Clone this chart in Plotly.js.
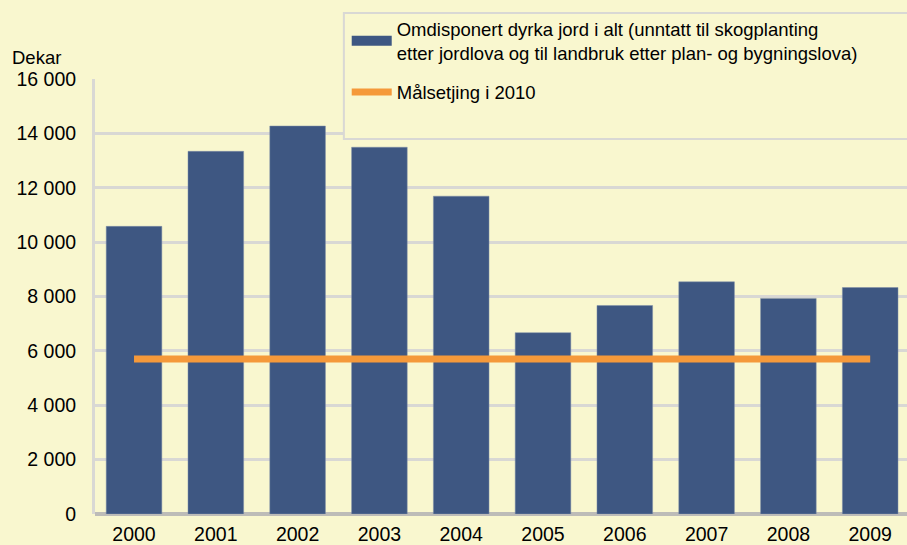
<!DOCTYPE html>
<html>
<head>
<meta charset="utf-8">
<script src="https://cdn.plot.ly/plotly-3.0.1.min.js"></script>
<style>html,body{margin:0;padding:0;background:#f9f7cf;}</style>
</head>
<body>
<div id="chart" style="width:907px;height:545px;"></div>
<script>
const years = ['2000','2001','2002','2003','2004','2005','2006','2007','2008','2009'];
const omdisponert = [10580, 13340, 14270, 13490, 11690, 6670, 7670, 8540, 7930, 8330];
const maal = [5700, 5700, 5700, 5700, 5700, 5700, 5700, 5700, 5700, 5700];
const barName = 'Omdisponert dyrka jord i alt (unntatt til skogplanting<br>etter jordlova og til landbruk etter plan- og bygningslova)';
const lineName = 'Målsetjing i 2010';
const yTicks = [0, 2000, 4000, 6000, 8000, 10000, 12000, 14000, 16000];

const bg = '#f9f7cf';
const barColor = '#3e5782';
const font = {family: 'Liberation Sans, Arial, sans-serif', size: 18.5, color: '#000'};
const tickFont = {family: 'Liberation Sans, Arial, sans-serif', size: 19.5, color: '#000'};

const traces = [
  {type: 'bar', x: years, y: omdisponert, name: barName,
   marker: {color: barColor, line: {color: '#7f8fa8', width: 0.5}},
   showlegend: false},
  {type: 'scatter', mode: 'lines', x: years, y: maal, name: lineName,
   line: {color: '#f5993a', width: 7}, showlegend: false},
  // legend entries (styled like the reference's legend keys)
  {type: 'scatter', mode: 'lines', x: [null], y: [null], name: barName,
   line: {color: barColor, width: 10}, legendgroup: 'a', hoverinfo: 'skip'},
  {type: 'scatter', mode: 'lines', x: [null], y: [null], name: lineName,
   line: {color: '#f5993a', width: 7}, legendgroup: 'b', hoverinfo: 'skip'}
];

const layout = {
  width: 907, height: 545,
  paper_bgcolor: bg, plot_bgcolor: bg,
  font: font,
  separators: ', ',
  margin: {l: 95, r: 0, t: 79, b: 31},
  bargap: 0.32,
  showlegend: true,
  legend: {x: 0.31, y: 1.158, xanchor: 'left', yanchor: 'top',
           bgcolor: 'rgba(0,0,0,0)', borderwidth: 0,
           traceorder: 'grouped', tracegroupgap: 12, itemwidth: 40,
           font: font},
  xaxis: {type: 'category', range: [-0.477, 9.45], showgrid: false,
          showline: false, zeroline: false,
          ticks: 'outside', ticklen: 3, tickcolor: 'rgba(0,0,0,0)',
          tickfont: tickFont, fixedrange: true},
  yaxis: {range: [0, 16000], tickvals: yTicks, tickformat: ',d',
          showgrid: true, gridcolor: '#d9d8d4', gridwidth: 3,
          zeroline: true, zerolinecolor: '#bdbcb8', zerolinewidth: 4,
          showline: true, linecolor: '#d9d8d4', linewidth: 3,
          ticks: 'outside', ticklen: 12, tickcolor: 'rgba(0,0,0,0)',
          tickfont: tickFont, fixedrange: true},
  shapes: [
    {type: 'rect', xref: 'paper', yref: 'paper', x0: 0.3065, x1: 1.05, y0: 0.862, y1: 1.152,
     line: {color: '#d9d8d4', width: 2}, fillcolor: bg, layer: 'above'}
  ],
  annotations: [
    {text: 'Dekar', xref: 'paper', yref: 'paper', x: -0.105, y: 1.05, xanchor: 'left',
     yanchor: 'middle', showarrow: false, font: font}
  ]
};

Plotly.newPlot('chart', traces, layout, {displayModeBar: false, staticPlot: true});
</script>
</body>
</html>
